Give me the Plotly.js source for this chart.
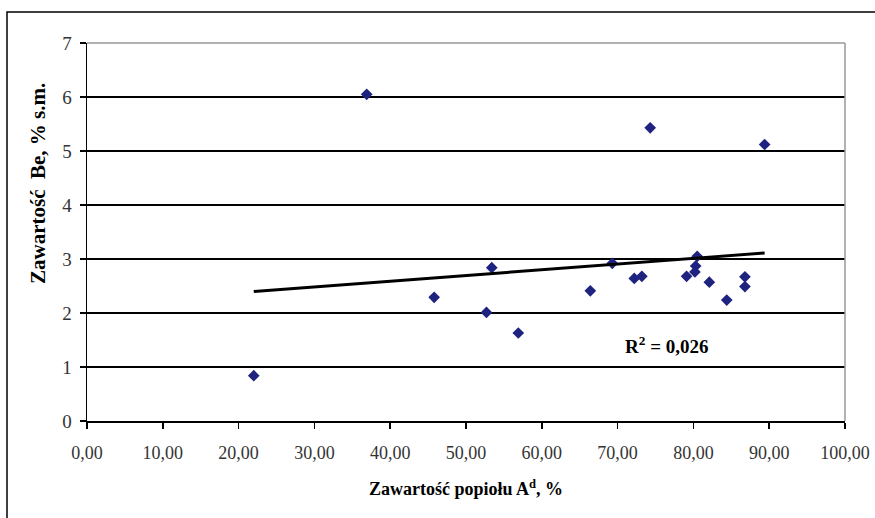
<!DOCTYPE html>
<html>
<head>
<meta charset="utf-8">
<script src="https://cdn.plot.ly/plotly-3.0.1.min.js"></script>
<style>html,body{margin:0;padding:0;background:#fff;}#chart{width:875px;height:518px;}</style>
</head>
<body>
<div id="chart"></div>
<script>
// Ash content A^d (%) and Be content (% s.m.)
const ashContent = [22.0, 36.9, 45.8, 52.7, 53.4, 56.9, 66.4, 69.3, 72.2, 73.2, 74.3, 79.1, 80.2, 80.3, 80.5, 82.1, 84.4, 86.8, 86.8, 89.4];
const beContent  = [0.84, 6.05, 2.29, 2.01, 2.84, 1.63, 2.41, 2.92, 2.64, 2.68, 5.43, 2.68, 2.76, 2.87, 3.05, 2.57, 2.24, 2.67, 2.49, 5.12];
// Linear trend line endpoints
const trendX = [22.0, 89.4];
const trendY = [2.40, 3.11];
const rSquaredLabel = "R<sup>2</sup> = 0,026";
const yTitle = "Zawartość  Be, % s.m.";
const xTitle = "Zawartość popiołu A<sup>d</sup>, %";
const xTickVals = [0, 10, 20, 30, 40, 50, 60, 70, 80, 90, 100];
const yTickVals = [0, 1, 2, 3, 4, 5, 6, 7];

const serif = "Liberation Serif, Times New Roman, serif";

const traces = [
  {
    x: ashContent, y: beContent, type: "scatter", mode: "markers",
    marker: {symbol: "diamond", size: 9, color: "#1f2380"},
    hoverinfo: "x+y", showlegend: false
  },
  {
    x: trendX, y: trendY, type: "scatter", mode: "lines",
    line: {color: "#000", width: 3}, hoverinfo: "skip", showlegend: false
  }
];

const layout = {
  width: 875, height: 518,
  margin: {l: 87, r: 30, t: 43, b: 97},
  paper_bgcolor: "#fff", plot_bgcolor: "#fff",
  separators: ", ",
  font: {family: serif, color: "#000", size: 18},
  showlegend: false,
  xaxis: {
    range: [0, 100], tickvals: xTickVals, tickformat: ".2f",
    showgrid: false, zeroline: false,
    showline: true, linecolor: "#000", linewidth: 2,
    ticks: "outside", ticklen: 6, tickcolor: "#000", tickwidth: 1.5,
    ticklabelstandoff: 8,
    tickfont: {family: serif, size: 18, color: "#333"},
    title: {text: "<b>" + xTitle + "</b>", font: {family: serif, size: 18, color: "#000"}, standoff: 21}
  },
  yaxis: {
    range: [0, 7], tickvals: yTickVals,
    showgrid: true, gridcolor: "#000", gridwidth: 1.5,
    zeroline: false,
    showline: true, linecolor: "#000", linewidth: 1.5,
    ticks: "outside", ticklen: 6, tickcolor: "#000", tickwidth: 1.5,
    ticklabelstandoff: 4,
    tickfont: {family: serif, size: 19, color: "#333"}
  },
  shapes: [
    {type: "line", xref: "paper", yref: "paper", x0: 0, x1: 1, y0: 1, y1: 1, line: {color: "#999", width: 1.5}, layer: "above"},
    {type: "line", xref: "paper", yref: "paper", x0: 1, x1: 1, y0: 0, y1: 1, line: {color: "#999", width: 1.5}, layer: "above"},
    {type: "rect", xref: "paper", yref: "paper",
     x0: (7 - 87) / 758, x1: (890 - 87) / 758, y0: (421 - 530) / 378, y1: (421 - 12) / 378,
     line: {color: "#000", width: 1.5}, fillcolor: "rgba(0,0,0,0)", layer: "below"}
  ],
  annotations: [
    {x: 76.5, y: 1.41, xref: "x", yref: "y", text: "<b>" + rSquaredLabel + "</b>", showarrow: false,
     font: {family: serif, size: 19, color: "#000"}},
    {x: (38 - 87) / 758, y: (421 - 184) / 378, xref: "paper", yref: "paper",
     xanchor: "center", yanchor: "middle", textangle: -90, showarrow: false,
     text: "<b>" + yTitle + "</b>", font: {family: serif, size: 21, color: "#000"}}
  ]
};

Plotly.newPlot("chart", traces, layout, {displayModeBar: false, staticPlot: true});
</script>
</body>
</html>
